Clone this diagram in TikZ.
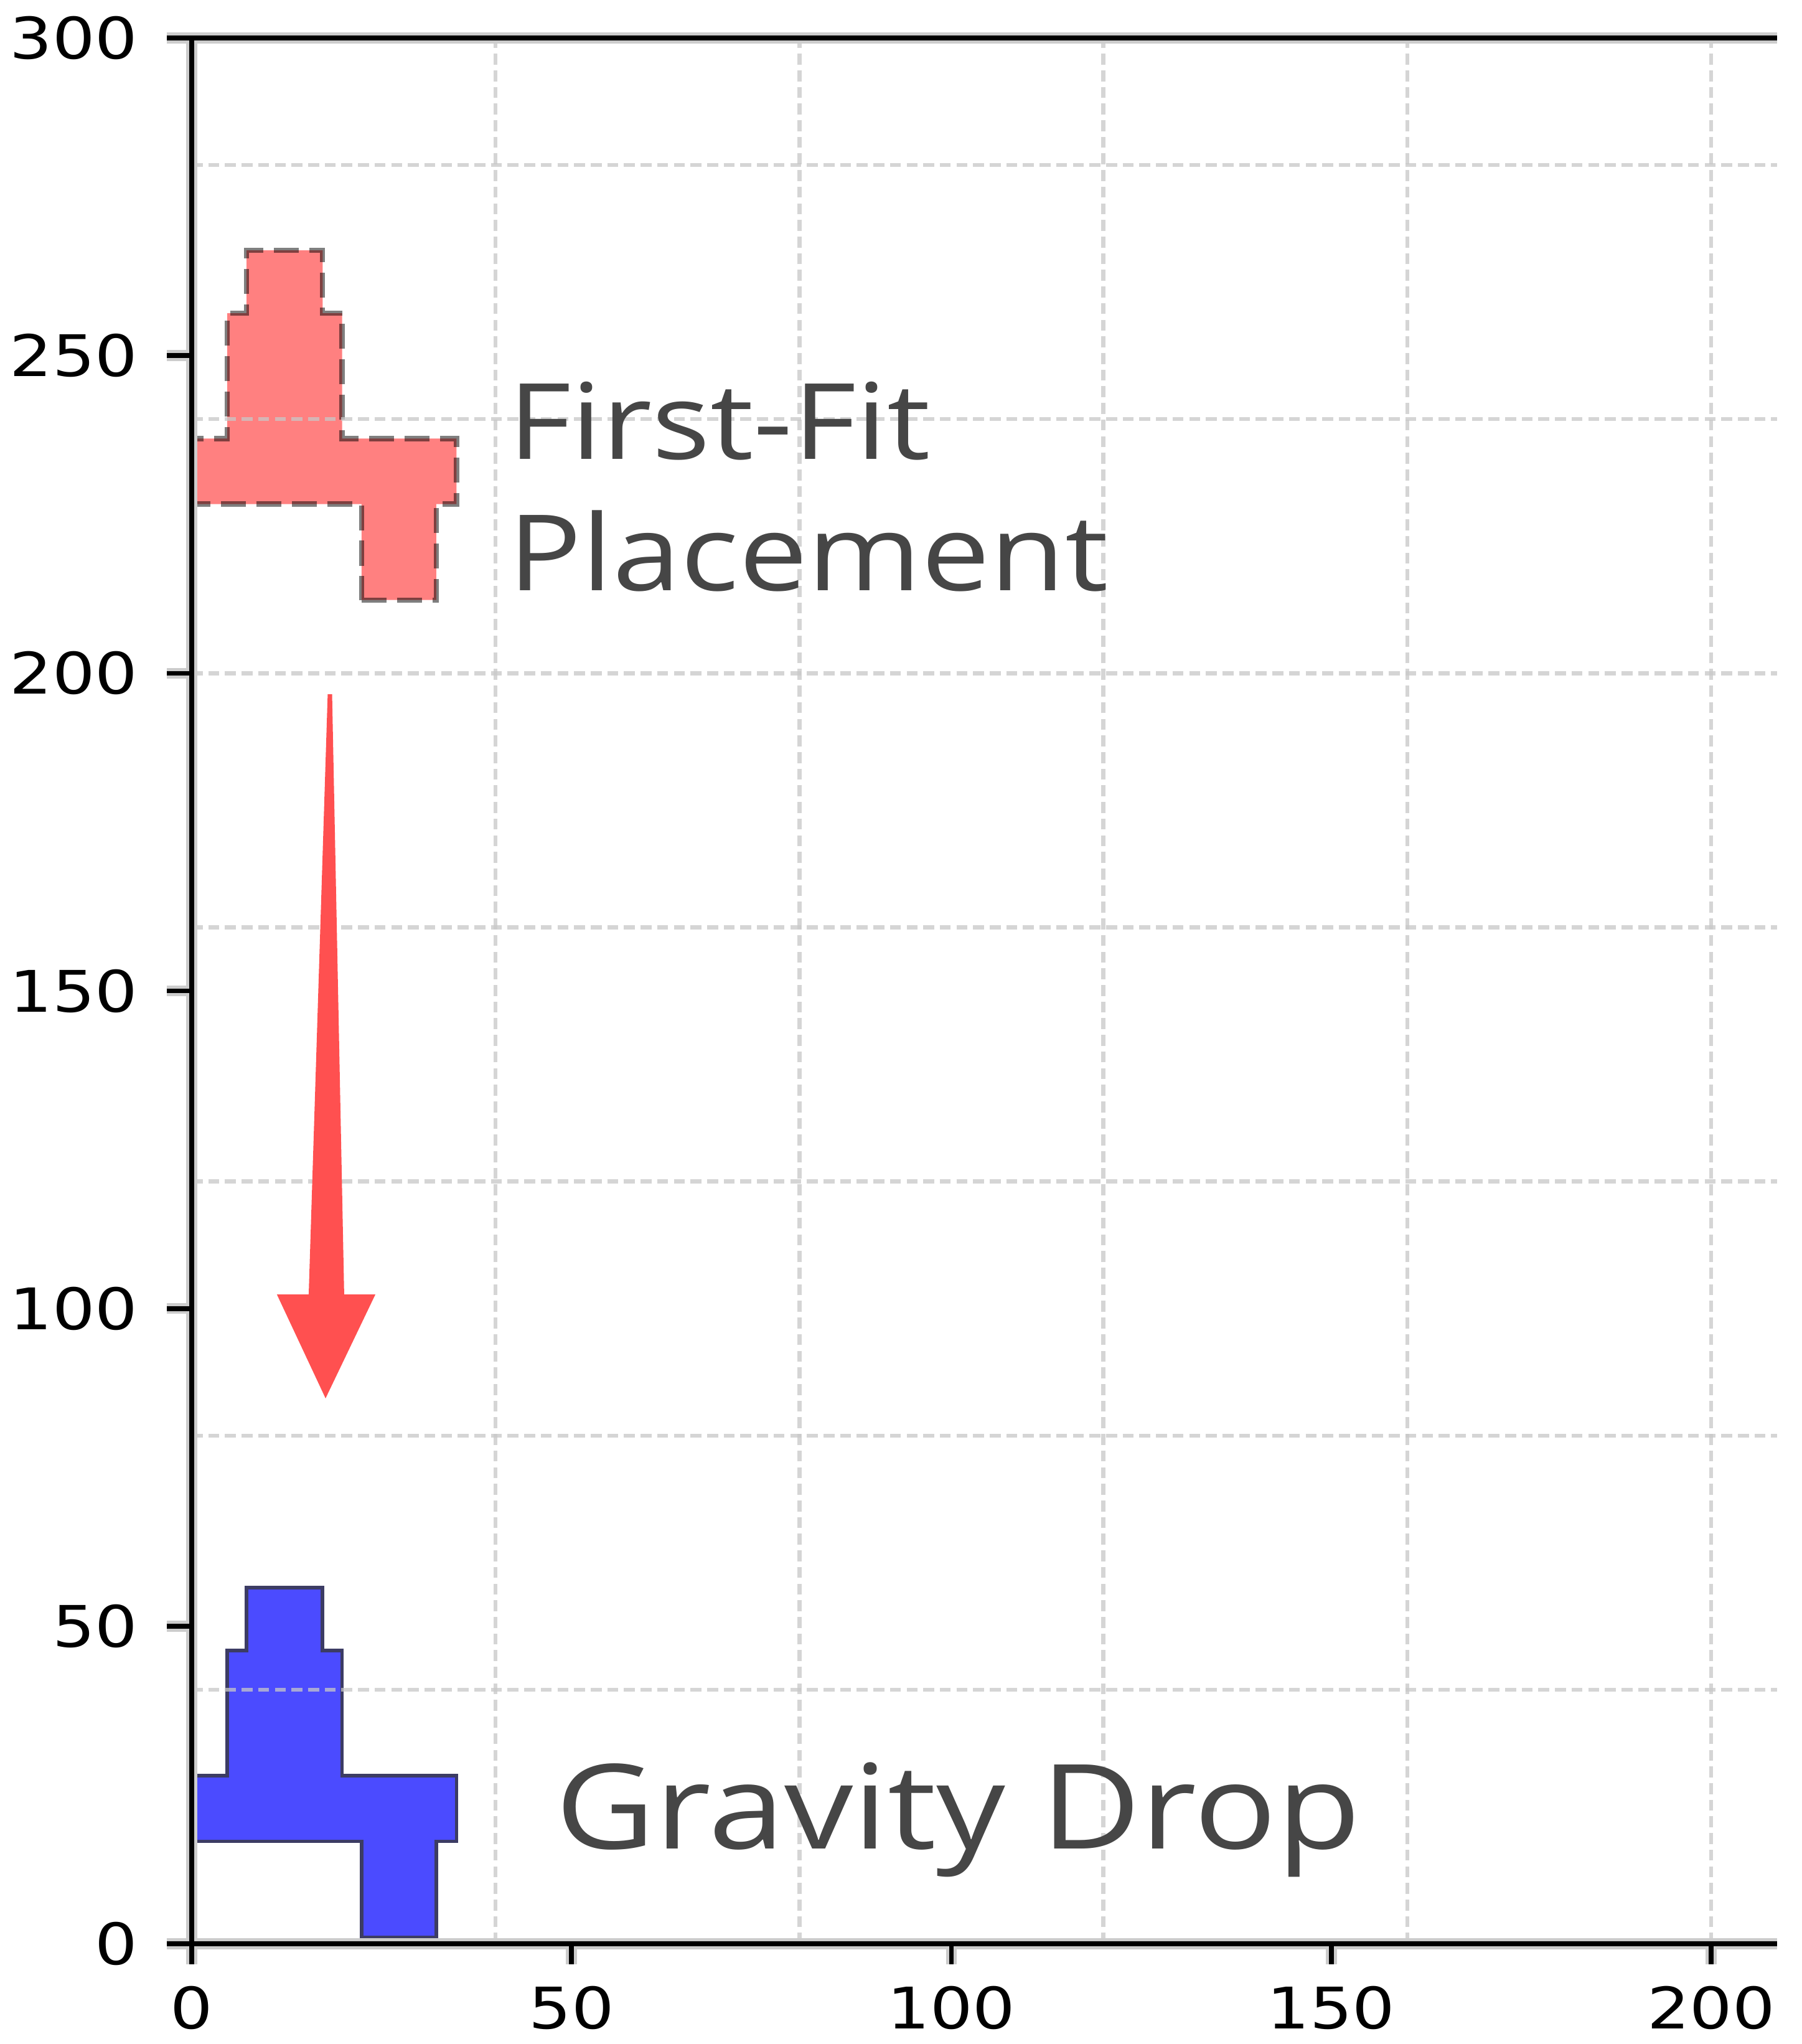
\documentclass[tikz,border=0pt]{standalone}
\usepackage{fontspec}
\setmainfont{Open Sans}
\newfontfamily\tickfont{DejaVu Sans}
\definecolor{bluefill}{RGB}{75,75,255}
\definecolor{blueedge}{RGB}{60,60,100}
\definecolor{redfill}{RGB}{255,128,128}
\definecolor{arrowred}{RGB}{255,80,80}
\definecolor{gridgray}{RGB}{200,200,200}
\definecolor{labelgray}{RGB}{70,70,70}
\begin{document}
\begin{tikzpicture}[x=0.12205cm,y=0.10203cm,
  gridline/.style={draw=gridgray, draw opacity=0.75, line width=1.8pt, dash pattern=on 5pt off 2.6pt},
  spineband/.style={draw=gray!40, line width=5pt},
  spine/.style={draw=black, line width=2.2pt},
  ticklab/.style={font=\tickfont\fontsize{26.2}{30}\selectfont, xscale=1.17, inner sep=0pt, text=black},
  bigtxt/.style={font=\fontsize{48.2}{58}\selectfont, text=labelgray, inner sep=0pt, xscale=1.16},
  hugetxt/.style={font=\fontsize{53.8}{64}\selectfont, text=labelgray, inner sep=0pt, xscale=1.165},
  placed/.style={fill=redfill, draw=black, draw opacity=0.5, line width=2.4pt, dash pattern=on 11.4pt off 4.8pt},
  dropped/.style={fill=bluefill, draw=blueedge, line width=1.6pt}]
\fill[white] (-25.235,-15.78) rectangle (211.96,305.99);
\useasboundingbox (-25.235,-15.78) rectangle (211.96,305.99);

% first-fit placement (red, dashed outline)
\begin{scope}[yshift=210.5*0.10203cm]
\filldraw[placed] (22.35,1.03) -- (32.2,1.03) -- (32.2,16.13) -- (34.86,16.13) -- (34.86,26.44) -- (19.8,26.44) -- (19.8,46.17) -- (17.23,46.17) -- (17.23,56.07) -- (7.22,56.07) -- (7.22,46.17) -- (4.68,46.17) -- (4.68,26.44) -- (0,26.44) -- (0,16.13) -- (22.35,16.13) -- cycle;
\end{scope}

% gravity drop (blue)
\filldraw[dropped] (22.35,1.03) -- (32.2,1.03) -- (32.2,16.13) -- (34.86,16.13) -- (34.86,26.44) -- (19.8,26.44) -- (19.8,46.17) -- (17.23,46.17) -- (17.23,56.07) -- (7.22,56.07) -- (7.22,46.17) -- (4.68,46.17) -- (4.68,26.44) -- (0,26.44) -- (0,16.13) -- (22.35,16.13) -- cycle;

% grid
\foreach \gx in {40,80,...,200} \draw[gridline] (\gx,0) -- (\gx,300);
\foreach \gy in {40,80,...,280} \draw[gridline] (0,\gy) -- (208.7,\gy);

% arrow
\coordinate (a1) at (17.9,196.7);
\coordinate (a2) at (18.48,196.7);
\coordinate (a3) at (20.07,102.2);
\coordinate (a4) at (24.17,102.2);
\coordinate (tip) at (17.62,85.86);
\coordinate (a6) at (11.22,102.2);
\coordinate (a7) at (15.40,102.2);
\fill[arrowred] (a1) -- (a2) -- (a3) -- (a4) -- (tip) -- (a6) -- (a7) -- cycle;

% labels
\node[bigtxt, anchor=base west] (ff1) at (41.6,233.7) {First-Fit};
\node[bigtxt, anchor=base west] (ff2) at (41.6,213.0) {Placement};
\node[hugetxt, anchor=base west] (gd) at (47.8,14.9) {Gravity Drop};

% spines and ticks
\draw[spineband] (0,-3.23) -- (0,300);
\draw[spineband] (0,300) -- (208.7,300);
\draw[spineband] (0,0) -- (208.7,0);
\foreach \v in {0,50,...,300} \draw[spineband] (-3.28,\v) -- (0,\v);
\foreach \v in {50,100,...,200} \draw[spineband] (\v,-3.23) -- (\v,0);
\draw[spine] (0,-3.23) -- (0,300);
\draw[spine] (0,300) -- (208.7,300);
\draw[spine] (0,0) -- (208.7,0);
\foreach \v in {0,50,...,300} \draw[spine] (-3.28,\v) -- (0,\v);
\foreach \v in {50,100,...,200} \draw[spine] (\v,-3.23) -- (\v,0);

\foreach \v in {0,50,...,300} \node[ticklab, anchor=east] (yl\v) at (-7.05,\v) {\v};
\foreach \v in {0,50,...,200} \node[ticklab, anchor=north] (xl\v) at (\v,-6.66) {\v};
\end{tikzpicture}
\end{document}
